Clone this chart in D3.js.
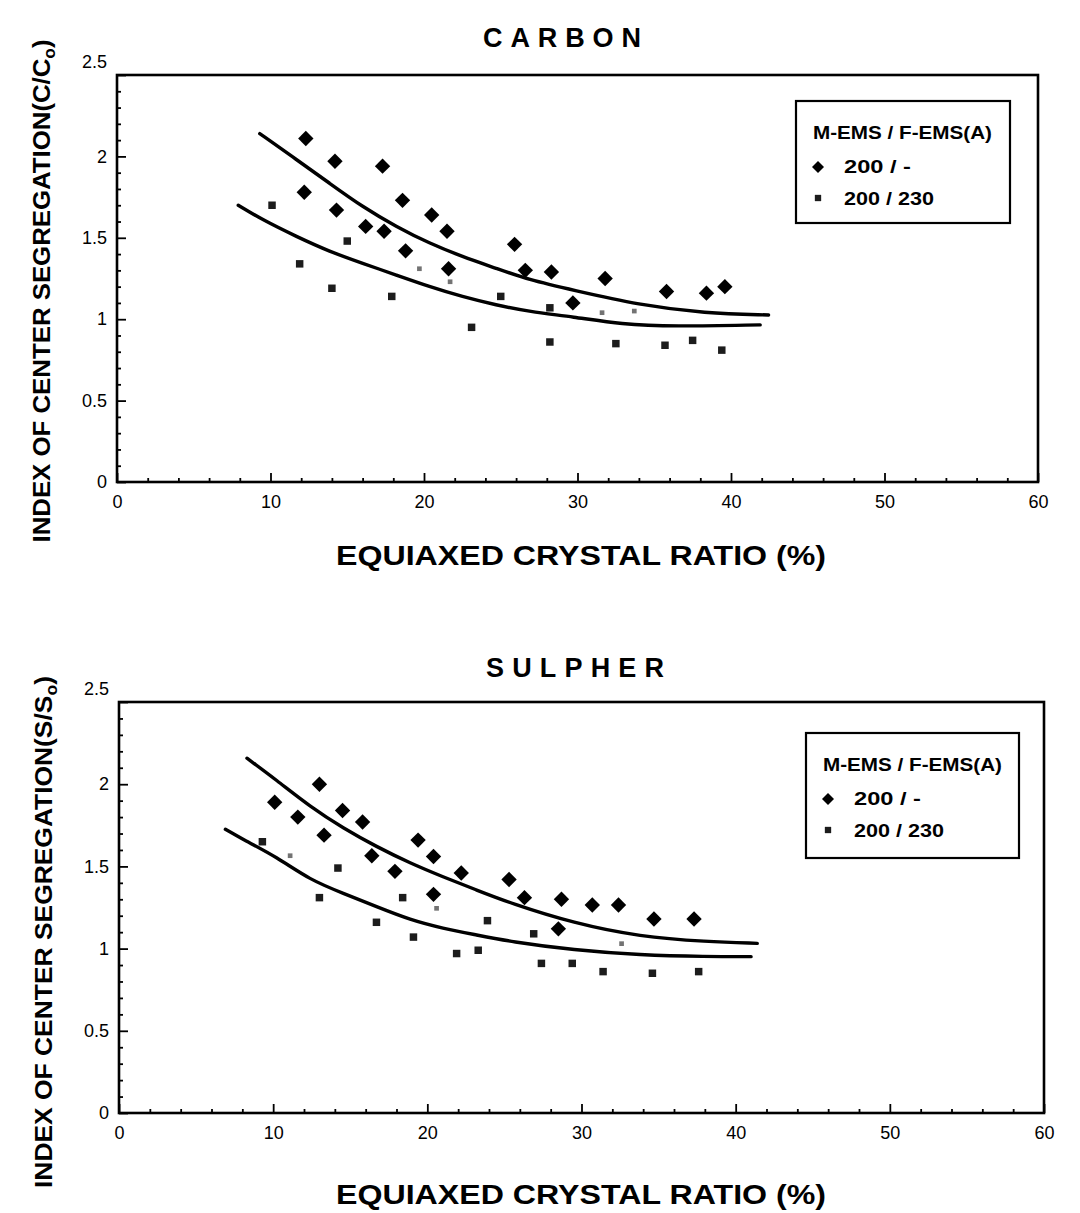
<!DOCTYPE html>
<html>

<head>
  <meta charset="utf-8">
  <title>Center segregation vs equiaxed crystal ratio</title>
  <script src="https://cdn.jsdelivr.net/npm/d3@7"></script>
  <style>
    body { margin: 0; background: #fff; }
    text { font-family: 'Liberation Sans Narrow', 'Liberation Sans', Arial, sans-serif; fill: #000; }
  </style>
</head>

<body>
  <svg width="1080" height="1213" id="mainsvg"></svg>
  <script>
    // values, [equiaxed ratio %, index]
    const carbonEms200 = [
      [12.3, 2.11], [14.2, 1.97], [17.3, 1.94], [12.2, 1.78], [14.3, 1.67], [16.2, 1.57], [17.4, 1.54],
      [18.6, 1.73], [18.8, 1.42], [20.5, 1.64], [21.5, 1.54], [21.6, 1.31], [25.9, 1.46], [26.6, 1.30],
      [28.3, 1.29], [29.7, 1.10], [31.8, 1.25], [35.8, 1.17], [38.4, 1.16], [39.6, 1.20]
    ];
    const carbonEms230 = [
      [10.1, 1.70], [11.9, 1.34], [14.0, 1.19], [15.0, 1.48], [17.9, 1.14], [23.1, 0.95], [25.0, 1.14],
      [28.2, 1.07], [28.2, 0.86], [32.5, 0.85], [35.7, 0.84], [37.5, 0.87], [39.4, 0.81]
    ];
    // marks that are barely visible in the scan
    const carbonEms230Faint = [[19.7, 1.31], [21.7, 1.23], [31.6, 1.04], [33.7, 1.05]];
    const carbonUpperFit = [
      [9.3, 2.14], [11.7, 1.98], [13.85, 1.835], [16.0, 1.69], [18.2, 1.568], [20.35, 1.466], [22.5, 1.384],
      [24.7, 1.313], [26.85, 1.241], [29.7, 1.179], [34.0, 1.087], [38.3, 1.036], [42.45, 1.026]
    ];
    const carbonLowerFit = [
      [7.9, 1.70], [9.5, 1.609], [11.7, 1.507], [13.85, 1.415], [16.0, 1.343], [18.2, 1.271], [20.35, 1.20],
      [22.5, 1.138], [24.7, 1.087], [26.85, 1.046], [29.7, 1.015], [32.9, 0.968], [36.2, 0.955], [41.9, 0.965]
    ];

    const sulpherEms200 = [
      [13.0, 2.00], [10.1, 1.89], [11.6, 1.80], [14.5, 1.84], [13.3, 1.69], [15.8, 1.77], [16.4, 1.565],
      [19.4, 1.66], [17.9, 1.47], [20.4, 1.56], [20.4, 1.33], [22.2, 1.46], [25.3, 1.42], [26.3, 1.31],
      [28.7, 1.30], [30.7, 1.265], [32.4, 1.265], [28.5, 1.12], [34.7, 1.18], [37.3, 1.18]
    ];
    const sulpherEms230 = [
      [9.3, 1.65], [14.2, 1.49], [13.0, 1.31], [18.4, 1.31], [16.7, 1.16], [19.1, 1.07], [21.9, 0.97],
      [23.3, 0.99], [23.9, 1.17], [26.9, 1.09], [27.4, 0.91], [29.4, 0.91], [31.4, 0.86], [34.6, 0.85], [37.6, 0.86]
    ];
    const sulpherEms230Faint = [[11.1, 1.565], [20.6, 1.245], [32.6, 1.03]];
    const sulpherUpperFit = [
      [8.3, 2.158], [10.2, 2.026], [12.4, 1.863], [14.55, 1.732], [16.7, 1.62], [18.9, 1.519], [21.0, 1.437],
      [23.2, 1.356], [25.4, 1.276], [29.5, 1.154], [33.8, 1.072], [38.1, 1.042], [41.4, 1.032]
    ];
    const sulpherLowerFit = [
      [6.9, 1.726], [8.1, 1.661], [10.2, 1.559], [12.4, 1.417], [14.55, 1.336], [16.7, 1.255], [18.9, 1.174],
      [21.0, 1.123], [23.2, 1.083], [25.4, 1.042], [29.5, 0.991], [33.8, 0.961], [38.1, 0.951], [41.0, 0.951]
    ];

    const xTicks = d3.range(0, 31).map(i => i * 2);      // 0..60, labelled every 10
    const yTicks = d3.range(0, 26).map(i => i / 10);     // 0..2.5, labelled every 0.5
    const legendTitle = 'M-EMS / F-EMS(A)';
    const legendLabels = ['200 / -', '200 / 230'];

    const svg = d3.select('#mainsvg');

    const panels = [
      {
        title: 'CARBON', titleX: 562, titleY: 47, titleLen: 158, el: 'C',
        box: { left: 117, right: 1038, top: 75, bottom: 482 },
        yTitleX: 50, yTitleCY: 291, yTitleLen: 503, xTitleY: 565,
        legend: { x: 796, y: 101, w: 214, h: 122 },
        diamonds: carbonEms200, squares: carbonEms230, faint: carbonEms230Faint,
        fits: [carbonUpperFit, carbonLowerFit]
      },
      {
        title: 'SULPHER', titleX: 575, titleY: 677, titleLen: 178, el: 'S',
        box: { left: 119, right: 1044, top: 702, bottom: 1113 },
        yTitleX: 52, yTitleCY: 932, yTitleLen: 512, xTitleY: 1204,
        legend: { x: 806, y: 733, w: 213, h: 125 },
        diamonds: sulpherEms200, squares: sulpherEms230, faint: sulpherEms230Faint,
        fits: [sulpherUpperFit, sulpherLowerFit]
      }
    ];

    const diamond = d3.symbol(d3.symbolSquare, 118);
    const smallSquare = d3.symbol(d3.symbolSquare, 56);

    panels.forEach(p => {
      const b = p.box;
      const x = d3.scaleLinear().domain([0, 60]).range([b.left, b.right]);
      const y = d3.scaleLinear().domain([0, 2.5]).range([b.bottom, b.top]);
      const g = svg.append('g');

      // title
      g.append('text').attr('x', p.titleX).attr('y', p.titleY)
        .attr('text-anchor', 'middle').attr('font-weight', 'bold').attr('font-size', 27)
        .attr('font-family', "'Liberation Sans', Arial, sans-serif")
        .attr('textLength', p.titleLen).attr('lengthAdjust', 'spacing')
        .text(p.title);

      // axes with inward ticks
      const xAxis = d3.axisBottom(x).tickValues(xTicks).tickSize(-4).tickPadding(13)
        .tickFormat(d => d % 10 === 0 ? d : '');
      const gx = g.append('g').attr('transform', `translate(0,${b.bottom})`).call(xAxis);
      gx.select('.domain').remove();
      gx.selectAll('.tick line').attr('stroke', '#000').attr('stroke-width', 1.8)
        .attr('y2', d => d % 10 === 0 ? -9 : -4);
      gx.selectAll('.tick text').attr('font-size', 18).attr('font-family', null);

      const yAxis = d3.axisLeft(y).tickValues(yTicks).tickSize(-4).tickPadding(10)
        .tickFormat(d => Math.round(d * 10) % 5 === 0 ? String(+d.toFixed(1)) : '');
      const gy = g.append('g').attr('transform', `translate(${b.left},0)`).call(yAxis);
      gy.select('.domain').remove();
      gy.selectAll('.tick line').attr('stroke', '#000').attr('stroke-width', 1.8)
        .attr('x2', d => Math.round(d * 10) % 5 === 0 ? 9 : 4);
      gy.selectAll('.tick text').attr('font-size', 18).attr('font-family', null)
        .attr('dy', d => d === 2.5 ? '-0.4em' : '0.32em');

      // frame
      g.append('rect').attr('x', b.left).attr('y', b.top)
        .attr('width', b.right - b.left).attr('height', b.bottom - b.top)
        .attr('fill', 'none').attr('stroke', '#000').attr('stroke-width', 2.6);

      // axis titles
      g.append('text').attr('x', 581).attr('y', p.xTitleY)
        .attr('text-anchor', 'middle').attr('font-weight', 'bold').attr('font-size', 27)
        .attr('textLength', 490).attr('lengthAdjust', 'spacingAndGlyphs')
        .text('EQUIAXED CRYSTAL RATIO (%)');

      const yt = g.append('text')
        .attr('transform', `translate(${p.yTitleX},${p.yTitleCY}) rotate(-90)`)
        .attr('text-anchor', 'middle').attr('font-weight', 'bold').attr('font-size', 24)
        .attr('font-family', "'Liberation Sans', Arial, sans-serif")
        .attr('textLength', p.yTitleLen).attr('lengthAdjust', 'spacingAndGlyphs');
      yt.append('tspan').text(`INDEX OF CENTER SEGREGATION(${p.el}/${p.el}`);
      yt.append('tspan').attr('font-size', 16).attr('dy', 5).text('o');
      yt.append('tspan').attr('dy', -5).text(')');

      // fitted curves
      const line = d3.line().x(d => x(d[0])).y(d => y(d[1])).curve(d3.curveBasis);
      g.selectAll('.fit').data(p.fits).join('path').attr('class', 'fit')
        .attr('d', line).attr('fill', 'none').attr('stroke', '#000')
        .attr('stroke-width', 3.4).attr('stroke-linecap', 'round');

      // data marks
      g.selectAll('.dia').data(p.diamonds).join('path').attr('class', 'dia')
        .attr('d', diamond).attr('fill', '#000')
        .attr('transform', d => `translate(${x(d[0])},${y(d[1])}) rotate(45)`);
      g.selectAll('.sq').data(p.squares).join('path').attr('class', 'sq')
        .attr('d', smallSquare).attr('fill', '#1c1c1c')
        .attr('transform', d => `translate(${x(d[0])},${y(d[1])})`);
      g.selectAll('.sqf').data(p.faint).join('path').attr('class', 'sqf')
        .attr('d', d3.symbol(d3.symbolSquare, 22)).attr('fill', '#000').attr('opacity', 0.55)
        .attr('transform', d => `translate(${x(d[0])},${y(d[1])})`);

      // legend
      const L = p.legend;
      const lg = g.append('g').attr('transform', `translate(${L.x},${L.y})`);
      lg.append('rect').attr('width', L.w).attr('height', L.h)
        .attr('fill', '#fff').attr('stroke', '#000').attr('stroke-width', 2.2);
      lg.append('text').attr('x', 17).attr('y', 38).attr('font-weight', 'bold').attr('font-size', 19)
        .attr('textLength', 179).attr('lengthAdjust', 'spacingAndGlyphs').text(legendTitle);
      lg.append('path').attr('d', d3.symbol(d3.symbolSquare, 72))
        .attr('transform', 'translate(22,66) rotate(45)').attr('fill', '#000');
      lg.append('path').attr('d', d3.symbol(d3.symbolSquare, 40))
        .attr('transform', 'translate(22,97)').attr('fill', '#1c1c1c');
      lg.selectAll('.ll').data(legendLabels).join('text').attr('class', 'll')
        .attr('x', 48).attr('y', (d, i) => 72 + i * 32)
        .attr('font-weight', 'bold').attr('font-size', 19)
        .attr('textLength', (d, i) => i === 0 ? 67 : 90).attr('lengthAdjust', 'spacingAndGlyphs')
        .text(d => d);
    });
  </script>
</body>

</html>
